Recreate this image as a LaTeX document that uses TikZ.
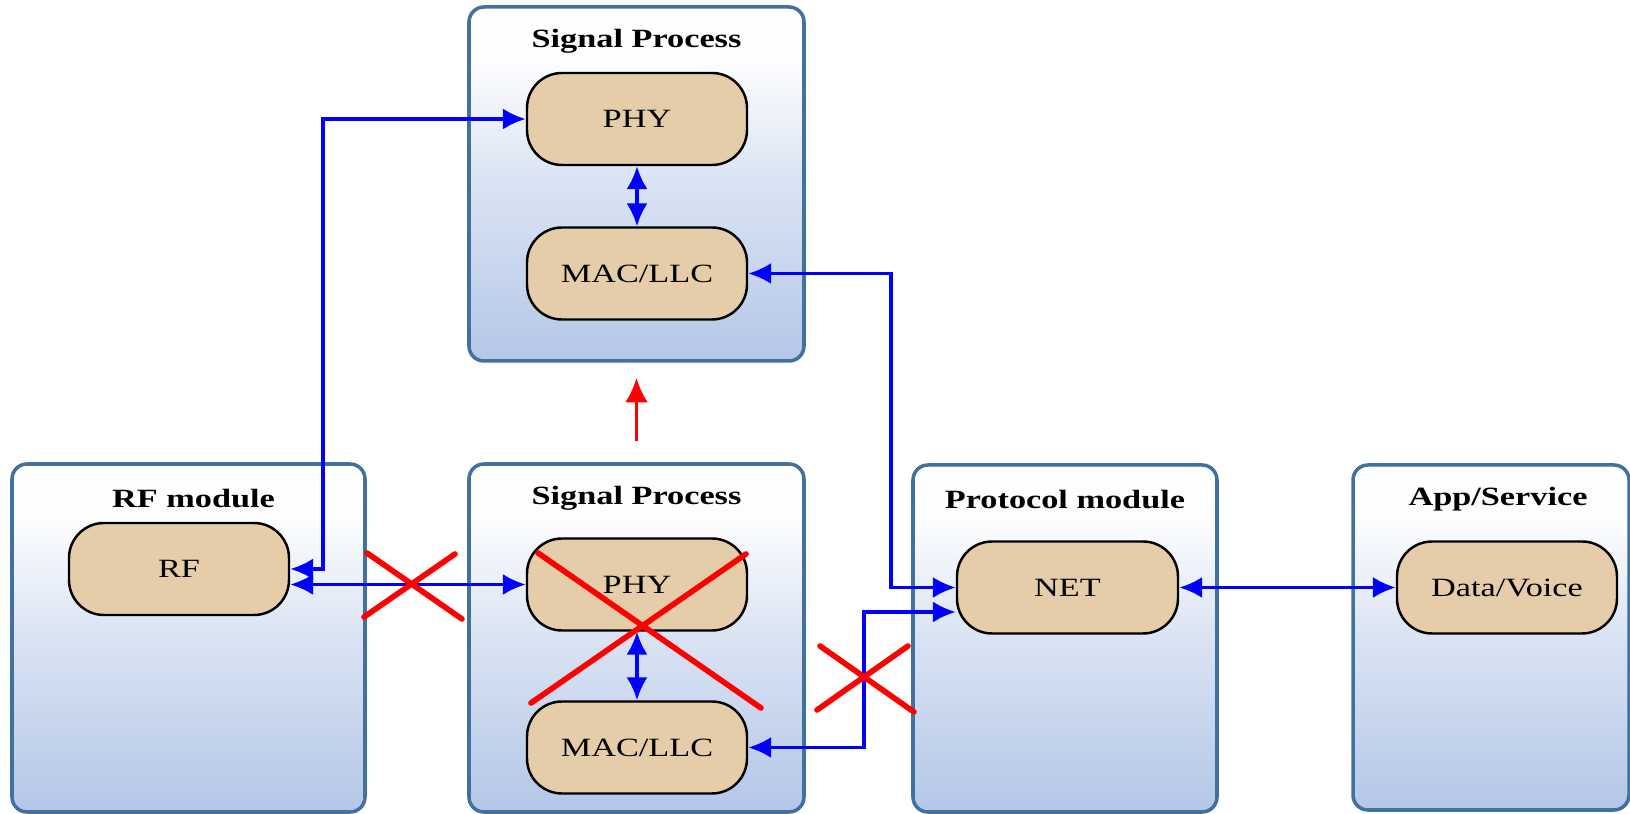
\documentclass[tikz,border=0pt]{standalone}
\usepackage{fontspec}
\setmainfont{Liberation Serif}[FakeStretch=1.3]
\usetikzlibrary{arrows.meta,positioning,calc}

\definecolor{boxline}{HTML}{41719C}
\definecolor{boxbot}{HTML}{B4C7E7}
\definecolor{layerfill}{HTML}{E5CDAA}

\pgfdeclareverticalshading{modshade}{100bp}{color(0bp)=(boxbot); color(25bp)=(boxbot);
  color(50bp)=(boxbot!50!white); color(67bp)=(boxbot!4!white); color(75bp)=(white); color(100bp)=(white)}

\tikzset{
  module/.style={draw=boxline, line width=1pt, rounded corners=1.5mm,
    shading=modshade, inner sep=0pt},
  modtitle/.style={font=\bfseries\fontsize{7.5}{9}\selectfont},
  layer/.style={draw=black, line width=0.7pt, fill=layerfill, rounded corners=3.5mm,
    minimum width=2.2cm, minimum height=0.92cm, font=\fontsize{7.5}{9}\selectfont},
  link/.style={draw=blue, line width=1pt, {Latex[length=6.5pt,width=6pt]}-{Latex[length=6.5pt,width=6pt]}},
  moveto/.style={draw=red, line width=1pt, -{Latex[length=7pt,width=6.5pt]}},
  cut/.style={draw=red, line width=1.6pt, line cap=round},
}

\begin{document}
\begin{tikzpicture}
  \useasboundingbox (0,0) rectangle (16.3,8.14);

  % modules
  \node[module, minimum width=3.35cm, minimum height=3.54cm] (sp1) at (6.365,6.30) {};
  \node[module, minimum width=3.53cm, minimum height=3.48cm] (rfm) at (1.885,1.76) {};
  \node[module, minimum width=3.35cm, minimum height=3.48cm] (sp2) at (6.365,1.76) {};
  \node[module, minimum width=3.04cm, minimum height=3.47cm] (prm) at (10.65,1.755) {};
  \node[module, minimum width=2.76cm, minimum height=3.45cm] (app) at (14.91,1.765) {};

  \node[modtitle] at ([yshift=-3.65mm]sp1.north) {Signal Process};
  \node[modtitle] at ([xshift=0.05cm,yshift=-3.6mm]rfm.north) {RF module};
  \node[modtitle] at ([yshift=-3.6mm]sp2.north) {Signal Process};
  \node[modtitle] at ([yshift=-3.6mm]prm.north) {Protocol module};
  \node[modtitle] at ([xshift=0.07cm,yshift=-3.6mm]app.north) {App/Service};

  % layers
  \node[layer] (phy1) at (6.37,6.95) {PHY};
  \node[layer] (mac1) at (6.37,5.405) {MAC/LLC};
  \node[layer] (rf) at (1.79,2.45) {RF};
  \node[layer] (phy2) at (6.37,2.295) {PHY};
  \node[layer] (mac2) at (6.37,0.665) {MAC/LLC};
  \node[layer, minimum width=2.21cm] (net) at (10.675,2.265) {NET};
  \node[layer] (dv) at (15.07,2.265) {Data/Voice};

  % links
  \draw[link] (rf.east) -- ++(0.33,0) |- (phy1.west);
  \draw[link] (phy2.west) -- (phy2.west -| rf.east);
  \draw[link] (phy1) -- (mac1);
  \draw[link] (phy2) -- (mac2);
  \draw[link] (mac1.east) -| ([xshift=-6.5mm]net.west) -- (net.west);
  \draw[link] (mac2.east) -| ([xshift=-9.2mm,yshift=-2.45mm]net.west) -- ([yshift=-2.45mm]net.west);
  \draw[link] (net) -- (dv);

  % migration
  \draw[moveto] ([yshift=2.1mm]sp2.north) -- ([yshift=-1.5mm]sp1.south);

  % removed parts
  \draw[cut] (3.67,2.61) -- (4.62,1.95) (3.64,1.97) -- (4.55,2.60);
  \draw[cut] (5.38,2.61) -- (7.61,1.06) (5.31,1.11) -- (7.46,2.60);
  \draw[cut] (8.20,1.68) -- (9.14,1.02) (8.17,1.04) -- (9.08,1.68);
\end{tikzpicture}
\end{document}
